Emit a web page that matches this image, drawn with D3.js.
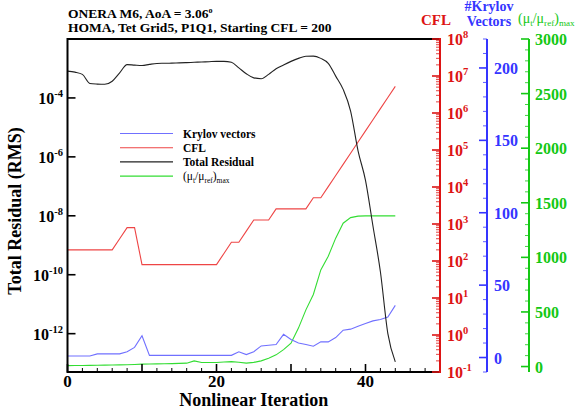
<!DOCTYPE html>
<html>
<head>
<meta charset="utf-8">
<script src="https://cdn.jsdelivr.net/npm/d3@7"></script>
<style>
  body { margin: 0; background: #fff; }
  svg { display: block; font-family: "Liberation Serif", "Times New Roman", serif; }
</style>
</head>
<body>
<svg id="chart" width="579" height="412"></svg>
<script>
const iterations = [0, 1, 2, 3, 4, 5, 6, 7, 8, 9, 10, 11, 12, 13, 14, 15, 16, 17, 18, 19, 20, 21, 22,
  23, 24, 25, 26, 27, 28, 29, 30, 31, 32, 33, 34, 35, 36, 37, 38, 39, 40, 41, 42, 43, 44];

const krylovVectors = [1, 1, 1, 1, 2.5, 2.5, 2.5, 2.5, 4, 7, 15, 1.5, 1.5, 1.5, 1.5, 1.5, 1.5, 1.5, 1.5, 1.5, 1.5, 1.5, 1.5,
  4, 2, 4, 8, 8.5, 9, 16, 12.4, 10, 9, 7.8, 10.8, 10.8, 13.8, 18.9, 19.6, 21.6, 23.5, 25.3, 26.3, 28, 36];

const cfl = [200, 200, 200, 200, 200, 200, 200, 400, 800, 800, 80, 80, 80, 80, 80, 80, 80, 80, 80, 80, 80, 160, 320,
  320, 640, 1280, 1280, 1280, 2560, 2560, 2560, 2560, 2560, 5120, 5120, 10240, 20480, 40960, 81920, 163840,
  327680, 655360, 1310720, 2621440, 5242880];

const totalResidual = [8.1e-4, 7.5e-4, 6.3e-4, 3.1e-4, 2.95e-4, 2.9e-4, 3.7e-4, 7.1e-4, 1.35e-3, 1.3e-3, 1.26e-3,
  1.38e-3, 1.48e-3, 1.5e-3, 1.52e-3, 1.55e-3, 1.58e-3, 1.62e-3, 1.66e-3, 1.7e-3, 1.74e-3, 1.74e-3, 1.62e-3,
  1.05e-3, 6.6e-4, 4.8e-4, 4.5e-4, 6.3e-4, 9.8e-4, 1.32e-3, 1.74e-3, 2.2e-3, 2.6e-3, 2.63e-3, 2.2e-3, 1.5e-3,
  5.5e-4, 1.95e-4, 3.6e-5, 1.6e-6, 1.6e-7, 4.5e-9, 1.26e-10, 1e-12, 1.1e-13];

const muRatioMax = [8, 9, 10, 11, 12, 13, 14, 15, 17, 19, 22, 23, 24, 25, 27, 29, 31, 52, 37, 37, 37, 41, 45,
  40, 31, 38, 52, 75, 107, 155, 214, 352, 519, 660, 885, 1010, 1176, 1313, 1364, 1378, 1380, 1380, 1380, 1380, 1380];

const xMajorTicks = [0, 10, 20, 30, 40, 50];
const xLabelTicks = [0, 20, 40];
const residualTicks = [1e-4, 1e-6, 1e-8, 1e-10, 1e-12];
const krylovTicks = [0, 50, 100, 150, 200];
const muTicks = [0, 500, 1000, 1500, 2000, 2500, 3000];

const RED = "#dd1414", BLUE = "#3535ff", GREEN = "#14c814";
const LINE_RED = "#ee4545", LINE_BLUE = "#7070ff", LINE_GREEN = "#33dd33", LINE_BLACK = "#222";

const svg = d3.select("#chart");
const plotLeft = 67.5, plotRight = 440, plotTop = 39, plotBottom = 372;
const redX = plotRight, blueX = 487, greenX = 529;

const x = d3.scaleLinear().domain([0, 50]).range([plotLeft, plotRight]);
const yRes = d3.scaleLog().domain([5e-14, 1e-2]).range([plotBottom, plotTop]);
const yCfl = d3.scaleLog().domain([0.1, 1e8]).range([plotBottom, plotTop]);
const yKry = d3.scaleLinear().domain([-10, 220]).range([plotBottom, plotTop]);
const yMu = d3.scaleLinear().domain([-50, 3000]).range([plotBottom, plotTop]);

// power-of-ten label with superscript exponent
const powerLabel = (sel, exp) => {
    sel.append("tspan").text("10");
    sel.append("tspan").attr("dy", -7).attr("font-size", 10.5).text(exp);
};

// data lines
const drawSeries = (values, yScale, color, curve) => {
    svg.append("path")
        .datum(iterations.map((it, i) => [it, values[i]]))
        .attr("fill", "none")
        .attr("stroke", color)
        .attr("stroke-width", 1.1)
        .attr("d", d3.line().x(d => x(d[0])).y(d => yScale(d[1])).curve(curve || d3.curveLinear));
};

drawSeries(muRatioMax, yMu, LINE_GREEN);
drawSeries(krylovVectors, yKry, LINE_BLUE);
drawSeries(cfl, yCfl, LINE_RED);
drawSeries(totalResidual, yRes, LINE_BLACK, d3.curveMonotoneX);

// frame: top + bottom + left
const frame = svg.append("g").attr("stroke", "#000").attr("stroke-width", 2);
frame.append("line").attr("x1", plotLeft).attr("x2", plotRight).attr("y1", plotTop).attr("y2", plotTop);
frame.append("line").attr("x1", plotLeft).attr("x2", plotRight).attr("y1", plotBottom).attr("y2", plotBottom);
frame.append("line").attr("x1", plotLeft).attr("x2", plotLeft).attr("y1", plotTop - 1).attr("y2", plotBottom + 1);

// x axis ticks
const xAxis = svg.append("g").attr("stroke", "#000");
x.ticks(25).forEach(v => {
    const major = xMajorTicks.includes(v);
    xAxis.append("line").attr("x1", x(v)).attr("x2", x(v))
        .attr("y1", plotBottom).attr("y2", plotBottom - (major ? 8 : 4))
        .attr("stroke-width", major ? 1.6 : 1);
});
svg.selectAll(".xlab").data(xLabelTicks).enter().append("text")
    .attr("x", d => x(d)).attr("y", 387)
    .attr("text-anchor", "middle").attr("font-size", 17).attr("font-weight", "bold")
    .text(d => d);
svg.append("text").attr("x", (plotLeft + plotRight) / 2).attr("y", 406)
    .attr("text-anchor", "middle").attr("font-size", 18).attr("font-weight", "bold")
    .text("Nonlinear Iteration");

// left residual axis
residualTicks.forEach(v => {
    svg.append("line").attr("x1", plotLeft).attr("x2", plotLeft + 8)
        .attr("y1", yRes(v)).attr("y2", yRes(v)).attr("stroke", "#000").attr("stroke-width", 1.6);
    const t = svg.append("text").attr("x", 63).attr("y", yRes(v) + 6)
        .attr("text-anchor", "end").attr("font-size", 16).attr("font-weight", "bold");
    powerLabel(t, String(Math.round(Math.log10(v))));
});
svg.append("text")
    .attr("transform", `translate(21,211) rotate(-90)`)
    .attr("text-anchor", "middle").attr("font-size", 18).attr("font-weight", "bold")
    .text("Total Residual (RMS)");

// red CFL axis
const redAxis = svg.append("g").attr("stroke", RED);
redAxis.append("line").attr("x1", redX).attr("x2", redX).attr("y1", plotTop - 1).attr("y2", plotBottom + 1).attr("stroke-width", 2);
yCfl.ticks().forEach(v => {
    const major = Math.abs(Math.log10(v) - Math.round(Math.log10(v))) < 1e-9;
    redAxis.append("line").attr("x1", redX).attr("x2", redX - (major ? 8 : 4))
        .attr("y1", yCfl(v)).attr("y2", yCfl(v)).attr("stroke-width", major ? 1.6 : 0.8);
    if (major) {
        const t = svg.append("text").attr("x", redX + 7).attr("y", yCfl(v) + 6)
            .attr("fill", RED).attr("font-size", 16).attr("font-weight", "bold");
        powerLabel(t, String(Math.round(Math.log10(v))));
    }
});
svg.append("text").attr("x", 436).attr("y", 25).attr("text-anchor", "middle")
    .attr("fill", RED).attr("font-size", 15).attr("font-weight", "bold").text("CFL");

// blue Krylov axis
const blueAxis = svg.append("g").attr("stroke", BLUE);
blueAxis.append("line").attr("x1", blueX).attr("x2", blueX).attr("y1", plotTop).attr("y2", plotBottom).attr("stroke-width", 2);
d3.range(-10, 221, 10).forEach(v => {
    const major = krylovTicks.includes(v);
    blueAxis.append("line").attr("x1", blueX).attr("x2", blueX - (major ? 8 : 4))
        .attr("y1", yKry(v)).attr("y2", yKry(v)).attr("stroke-width", major ? 1.6 : 0.8);
});
svg.selectAll(".klab").data(krylovTicks).enter().append("text")
    .attr("x", blueX + 7).attr("y", d => yKry(d) + 6)
    .attr("fill", BLUE).attr("font-size", 16).attr("font-weight", "bold").text(d => d);
svg.append("text").attr("x", 489).attr("y", 11).attr("text-anchor", "middle")
    .attr("fill", BLUE).attr("font-size", 14).attr("font-weight", "bold").text("#Krylov");
svg.append("text").attr("x", 489).attr("y", 26).attr("text-anchor", "middle")
    .attr("fill", BLUE).attr("font-size", 14).attr("font-weight", "bold").text("Vectors");

// green mu ratio axis
const greenAxis = svg.append("g").attr("stroke", GREEN);
greenAxis.append("line").attr("x1", greenX).attr("x2", greenX).attr("y1", plotTop).attr("y2", plotBottom).attr("stroke-width", 2);
d3.range(0, 3001, 100).forEach(v => {
    const major = muTicks.includes(v);
    greenAxis.append("line").attr("x1", greenX).attr("x2", greenX - (major ? 8 : 4))
        .attr("y1", yMu(v)).attr("y2", yMu(v)).attr("stroke-width", major ? 1.6 : 0.8);
});
svg.selectAll(".mlab").data(muTicks).enter().append("text")
    .attr("x", greenX + 6).attr("y", d => yMu(d) + 6)
    .attr("fill", GREEN).attr("font-size", 16).attr("font-weight", "bold").text(d => d);

const muLabel = (sel, size) => {
    sel.append("tspan").text("(μ");
    sel.append("tspan").attr("font-size", size * 0.65).attr("dy", 3).text("t");
    sel.append("tspan").attr("dy", -3).text("/μ");
    sel.append("tspan").attr("font-size", size * 0.65).attr("dy", 3).text("ref");
    sel.append("tspan").attr("dy", -3).text(")");
    sel.append("tspan").attr("font-size", size * 0.65).attr("dy", 3).text("max");
};
muLabel(svg.append("text").attr("x", 518).attr("y", 23).attr("fill", GREEN).attr("font-size", 14), 14);

// title
svg.append("text").attr("x", 68).attr("y", 18).attr("font-size", 13.5).attr("font-weight", "bold")
    .call(t => {
        t.append("tspan").text("ONERA M6, AoA = 3.06");
        t.append("tspan").attr("dy", -5).attr("font-size", 8).text("o");
    });
svg.append("text").attr("x", 68).attr("y", 32).attr("font-size", 13.5).attr("font-weight", "bold")
    .text("HOMA, Tet Grid5, P1Q1, Starting CFL = 200");

// legend
const legendItems = [
    {label: "Krylov vectors", color: LINE_BLUE},
    {label: "CFL", color: LINE_RED},
    {label: "Total Residual", color: LINE_BLACK},
    {label: null, color: LINE_GREEN}
];
legendItems.forEach((d, i) => {
    const cy = 133.5 + i * 14.2;
    svg.append("line").attr("x1", 120).attr("x2", 173).attr("y1", cy).attr("y2", cy)
        .attr("stroke", d.color).attr("stroke-width", 1.1);
    const t = svg.append("text").attr("x", 183).attr("y", cy + 4).attr("font-size", 11.5);
    if (d.label) t.attr("font-weight", "bold").text(d.label);
    else muLabel(t, 11.5);
});
</script>
</body>
</html>
